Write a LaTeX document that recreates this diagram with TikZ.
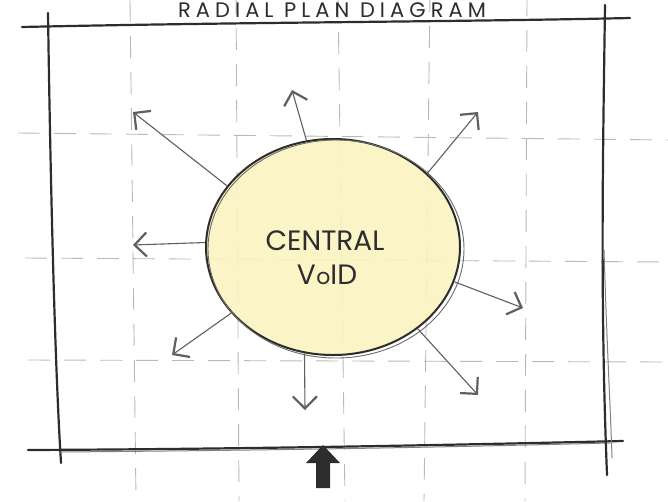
\documentclass[tikz,border=0pt]{standalone}
\usepackage{fontspec}
\setmainfont{Poppins}
\usetikzlibrary{arrows.meta,shapes.geometric}
\definecolor{voidfill}{RGB}{250,243,192}
\definecolor{ink}{RGB}{45,45,45}
\definecolor{gridc}{RGB}{185,185,185}
\definecolor{arr}{RGB}{95,95,95}
\tikzset{
  gridline/.style={gridc,line width=0.9pt,dash pattern=on 22pt off 14pt},
  frame/.style={ink,line width=2.2pt,line cap=round},
  frame2/.style={ink!60,line width=1pt,line cap=round},
  ray/.style={arr,line width=1.1pt,-{Straight Barb[length=12pt,width=24pt,line width=2.2pt]}},
  lbl/.style={font=\fontsize{28}{30}\selectfont,text=ink,anchor=base},
}
\begin{document}
\begin{tikzpicture}[x=1pt,y=-1pt]
\useasboundingbox (0,0) rectangle (668,501);
\fill[white] (0,0) rectangle (668,501);
% grid
\draw[gridline] (130,0) -- (136,501);
\draw[gridline] (236,-8) -- (239,501);
\draw[gridline] (338,-4) -- (345,501);
\draw[gridline] (430,-10) -- (424,501);
\draw[gridline] (527,-6) -- (525,501);
\draw[gridline] (18,133) -- (668,140);
\draw[gridline] (25,258) -- (668,262);
\draw[gridline] (28,360) -- (668,362);
% frame
\draw[frame] (22,27) .. controls (250,22) and (450,22) .. (630,18);
\draw[frame] (48,13) .. controls (50,150) and (54,350) .. (61,463);
\draw[frame] (28,450) .. controls (250,449) and (450,445) .. (623,441);
\draw[frame2] (60,452) .. controls (300,450) and (450,447) .. (610,443);
\draw[frame] (605,5) .. controls (603,150) and (600,300) .. (607,475);
\draw[frame2] (604,250) .. controls (607,350) and (611,420) .. (612,458);
% title
\node[lbl,font=\fontsize{21}{23}\selectfont\addfontfeature{LetterSpace=24}] (title) at (332,17) {RADIAL PLAN DIAGRAM};
% central void
\node[ellipse,minimum width=256pt,minimum height=218pt,inner sep=0pt,fill=voidfill,fill opacity=0.9] (void) at (333,247) {};
\draw[ink,line width=2pt] (333,247) ellipse [x radius=127, y radius=108];
\draw[ink!70,line width=0.9pt] (336,249) ellipse [x radius=128, y radius=109];
\node[lbl] (t1) at (325,250) {CENTRAL};
\node[lbl] (t2) at (327,284) {V\kern0.5pt{\fontsize{22}{24}\selectfont o}ID};
% ray tips
\coordinate (p1) at (133,112);
\coordinate (p2) at (292,90);
\coordinate (p3) at (478,112);
\coordinate (p4) at (133,245);
\coordinate (p5) at (523,308);
\coordinate (p6) at (172,355);
\coordinate (p7) at (478,395);
\coordinate (p8) at (305,410);
\draw[ray] (void.150) -- (p1);
\draw[ray] (void.104) -- (p2);
\draw[ray] (void.38) -- (p3);
\draw[ray] (void.178) -- (p4);
\draw[ray] (void.-16) -- (p5);
\draw[ray] (void.213) -- (p6);
\draw[ray] (void.-44) -- (p7);
\draw[ray] (void.255) -- (p8);
% entrance arrow
\fill[ink] (323,445) -- (340,463) -- (330,463) -- (330,488) -- (316,488) -- (316,463) -- (306,463) -- cycle;
\end{tikzpicture}
\end{document}
